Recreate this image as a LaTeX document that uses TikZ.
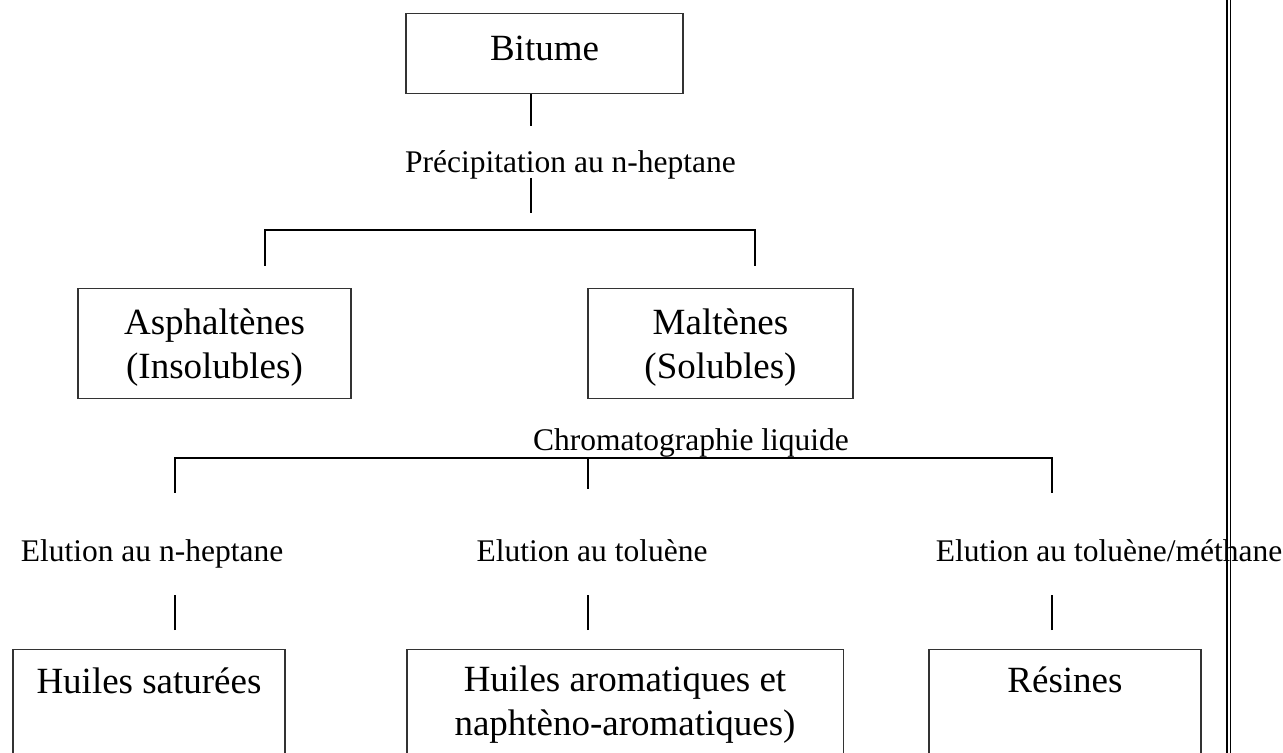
\documentclass[tikz,border=0pt]{standalone}
\usepackage{fontspec}
\setmainfont{Liberation Serif}
\begin{document}
\begin{tikzpicture}[x=0.025cm, y=-0.025cm, line width=1pt,
    box/.style={draw=black!80, line width=0.8pt, inner sep=0pt, anchor=north,
        align=center, font=\fontsize{26.3}{31.5}\selectfont},
    stage/.style={inner sep=0pt, anchor=base, font=\fontsize{22.4}{27}\selectfont}]
    \useasboundingbox (0,0) rectangle (1283,753);
    \clip (0,0) rectangle (1283,753);
    % boxes
    \node[box, minimum width=6.925cm, text height=1.175cm, text depth=0.825cm] (bitume) at (544.5,13) {Bitume};
    \node[box, minimum width=6.825cm, text height=2.25cm, text depth=0.5cm] (asph) at (214.5,288) {Asphaltènes\\(Insolubles)};
    \node[box, minimum width=6.625cm, text height=2.25cm, text depth=0.5cm] (malt) at (720.5,288) {Maltènes\\(Solubles)};
    \node[box, minimum width=6.8cm, text height=1.1cm, text depth=5cm] (sat) at (149,649) {Huiles saturées};
    \node[box, minimum width=10.9cm, text height=2.15cm, text depth=5cm] (arom) at (625,649) {Huiles aromatiques et\\naphtèno-aromatiques)};
    \node[box, minimum width=6.8cm, text height=1.075cm, text depth=5cm] (res) at (1065,649) {Résines};
    % labels
    \node[stage] (prec) at (570.5,173) {Précipitation au n-heptane};
    \node[stage] (chrom) at (691,451) {Chromatographie liquide};
    \node[stage] (elu1) at (152,562) {Elution au n-heptane};
    \node[stage] (elu2) at (592,562) {Elution au toluène};
    \node[stage] (elu3) at (1109,562) {Elution au toluène/méthane};
    % connectors
    \coordinate (j1) at (531,230);
    \coordinate (a1) at (265,230);
    \coordinate (m1) at (755,230);
    \coordinate (h1) at (175,458);
    \coordinate (j2) at (588,458);
    \coordinate (r1) at (1052,458);
    \draw (bitume.south -| j1) -- ++(0,32);
    \draw (j1) ++(0,-52) -- ++(0,35);
    \draw (asph.north -| a1) ++(0,-22) |- (m1) -- ++(0,36);
    \draw (h1) ++(0,35) -- (h1) -- (r1) -- ++(0,35);
    \draw (j2) -- ++(0,31);
    \draw (sat.north -| h1) ++(0,-19) -- ++(0,-35);
    \draw (arom.north -| j2) ++(0,-19) -- ++(0,-35);
    \draw (res.north -| r1) ++(0,-19) -- ++(0,-35);
    % right margin
    \foreach \x in {1227,1230.5}
        \draw[line width=0.9pt] (\x,0) -- (\x,753);
\end{tikzpicture}
\end{document}
